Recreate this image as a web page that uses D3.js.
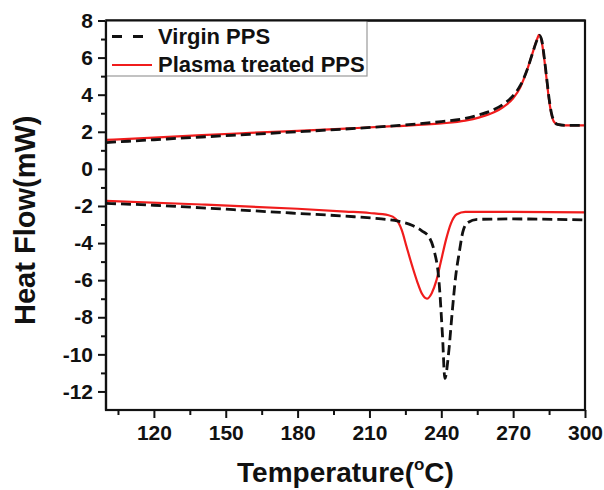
<!DOCTYPE html>
<html><head><meta charset="utf-8">
<script src="https://cdn.jsdelivr.net/npm/d3@7"></script>
<style>
html,body{margin:0;padding:0;background:#fff;}
svg{display:block;font-family:"Liberation Sans",Arial,sans-serif;}
</style></head>
<body>
<svg id="chart" width="604" height="490"></svg>
<script>
// ---- data (temperature °C, heat flow mW) ----
const seriesNames = ["Virgin PPS", "Plasma treated PPS"];
const virginHeatT = [100,120,140,160,180,200,220,240,250,256,262,266,270,273,276,278,280,281,282,283,284,285,286,287,288.5,292,300];
const virginHeatV = [1.42,1.57,1.72,1.86,2.0,2.15,2.32,2.55,2.72,2.92,3.2,3.5,3.95,4.5,5.4,6.2,6.95,7.2,6.9,6.0,4.9,3.8,3.0,2.6,2.4,2.35,2.35];
const plasmaHeatT = [100,120,140,160,180,200,220,240,250,256,262,266,270,273,276,278,280,280.8,282,283,284,285,286,287,288.5,292,300];
const plasmaHeatV = [1.56,1.68,1.82,1.94,2.05,2.17,2.3,2.45,2.6,2.78,3.05,3.35,3.8,4.4,5.4,6.2,7.0,7.22,6.8,5.9,4.8,3.7,2.95,2.55,2.4,2.35,2.35];
const virginCoolT = [100,120,140,160,180,200,215,222,228,232,235,237,239,240.5,241.5,243,244.5,246,247.5,249,251,255,270,300];
const virginCoolV = [-1.86,-1.96,-2.1,-2.25,-2.4,-2.55,-2.7,-2.82,-3.05,-3.35,-3.7,-4.4,-6.0,-9.0,-11.3,-10.0,-7.8,-5.8,-4.5,-3.4,-2.9,-2.72,-2.7,-2.75];
const plasmaCoolT = [100,140,180,200,210,218,221,223.5,225.5,228,230,232,234,236,238,240,242,244,246.5,250,270,300];
const plasmaCoolV = [-1.73,-1.92,-2.15,-2.3,-2.38,-2.5,-2.7,-3.3,-4.2,-5.3,-6.1,-6.75,-7.0,-6.7,-6.0,-4.9,-3.8,-2.95,-2.45,-2.32,-2.32,-2.35];
const xTicks = [120,150,180,210,240,270,300];
const xMinor = [105,135,165,195,225,255,285];
const yTicks = [-12,-10,-8,-6,-4,-2,0,2,4,6,8];
const yMinor = [-11,-9,-7,-5,-3,-1,1,3,5,7];

const zip = (t, v) => t.map((d, i) => [d, v[i]]);

const svg = d3.select("#chart");
const L = 106, R = 585, T = 20.5, B = 410;
const x = d3.scaleLinear().domain([100, 300]).range([L, R]);
const y = d3.scaleLinear().domain([-13, 8]).range([B, T]);

const line = d3.line().x(d => x(d[0])).y(d => y(d[1])).curve(d3.curveMonotoneX);

const g = svg.append("g");
// red (plasma) first, dashed on top
[zip(plasmaHeatT, plasmaHeatV), zip(plasmaCoolT, plasmaCoolV)].forEach(d => {
  g.append("path").datum(d).attr("d", line).attr("fill", "none")
    .attr("stroke", "#f01c1c").attr("stroke-width", 2.2);
});
[zip(virginHeatT, virginHeatV), zip(virginCoolT, virginCoolV)].forEach(d => {
  g.append("path").datum(d).attr("d", line).attr("fill", "none")
    .attr("stroke", "#111").attr("stroke-width", 2.8).attr("stroke-dasharray", "10,5");
});

// axes
const fontTick = "21px";
const fmt = d => String(d);
svg.append("g").attr("transform", `translate(0,${B})`)
  .call(d3.axisBottom(x).tickValues(xTicks).tickSize(8).tickSizeOuter(0).tickPadding(7).tickFormat(fmt));
svg.append("g").attr("transform", `translate(0,${B})`)
  .call(d3.axisBottom(x).tickValues(xMinor).tickSize(5).tickSizeOuter(0).tickFormat(""));
svg.append("g").attr("transform", `translate(${L},0)`)
  .call(d3.axisLeft(y).tickValues(yTicks).tickSize(8).tickSizeOuter(0).tickPadding(5).tickFormat(fmt));
svg.append("g").attr("transform", `translate(${L},0)`)
  .call(d3.axisLeft(y).tickValues(yMinor).tickSize(5).tickSizeOuter(0).tickFormat(""));

svg.selectAll(".tick line").attr("stroke", "#111").attr("stroke-width", 2);
svg.selectAll(".domain").remove();
svg.selectAll(".tick text").attr("font-size", fontTick).attr("font-weight", "bold")
  .attr("fill", "#111").attr("font-family", "Liberation Sans, Arial, sans-serif");

// frame
svg.append("rect").attr("x", L).attr("y", T).attr("width", R - L).attr("height", B - T)
  .attr("fill", "none").attr("stroke", "#111").attr("stroke-width", 2.2);

// legend
const lg = svg.append("g");
lg.append("rect").attr("x", L).attr("y", T).attr("width", 367 - L).attr("height", 76 - T)
  .attr("fill", "#fff").attr("stroke", "#999").attr("stroke-width", 1.2);
svg.append("line").attr("x1", L).attr("x2", R).attr("y1", T).attr("y2", T).attr("stroke", "#111").attr("stroke-width", 2.2);
svg.append("line").attr("x1", L).attr("x2", L).attr("y1", T).attr("y2", B).attr("stroke", "#111").attr("stroke-width", 2.2);
lg.append("line").attr("x1", 112).attr("x2", 143).attr("y1", 36.5).attr("y2", 36.5)
  .attr("stroke", "#111").attr("stroke-width", 2.8).attr("stroke-dasharray", "10,11");
lg.append("line").attr("x1", 112).attr("x2", 152).attr("y1", 65).attr("y2", 65)
  .attr("stroke", "#f01c1c").attr("stroke-width", 2.2);
lg.append("text").attr("x", 158).attr("y", 43.5).text(seriesNames[0])
  .attr("font-size", "22px").attr("font-weight", "bold").attr("fill", "#111");
lg.append("text").attr("x", 158).attr("y", 72).text(seriesNames[1])
  .attr("font-size", "22px").attr("font-weight", "bold").attr("fill", "#111");

// axis titles
const xt = svg.append("text").attr("x", (L + R) / 2).attr("y", 482).attr("text-anchor", "middle")
  .attr("font-size", "28px").attr("font-weight", "bold").attr("fill", "#111");
xt.append("tspan").text("Temperature(");
xt.append("tspan").text("o").attr("font-size", "17px").attr("dy", "-12");
xt.append("tspan").text("C)").attr("dy", "12");

svg.append("text").attr("transform", `translate(35,${(T + B) / 2 + 5}) rotate(-90)`)
  .attr("text-anchor", "middle").attr("font-size", "29px").attr("font-weight", "bold")
  .attr("fill", "#111").text("Heat Flow(mW)");
</script>
</body></html>
